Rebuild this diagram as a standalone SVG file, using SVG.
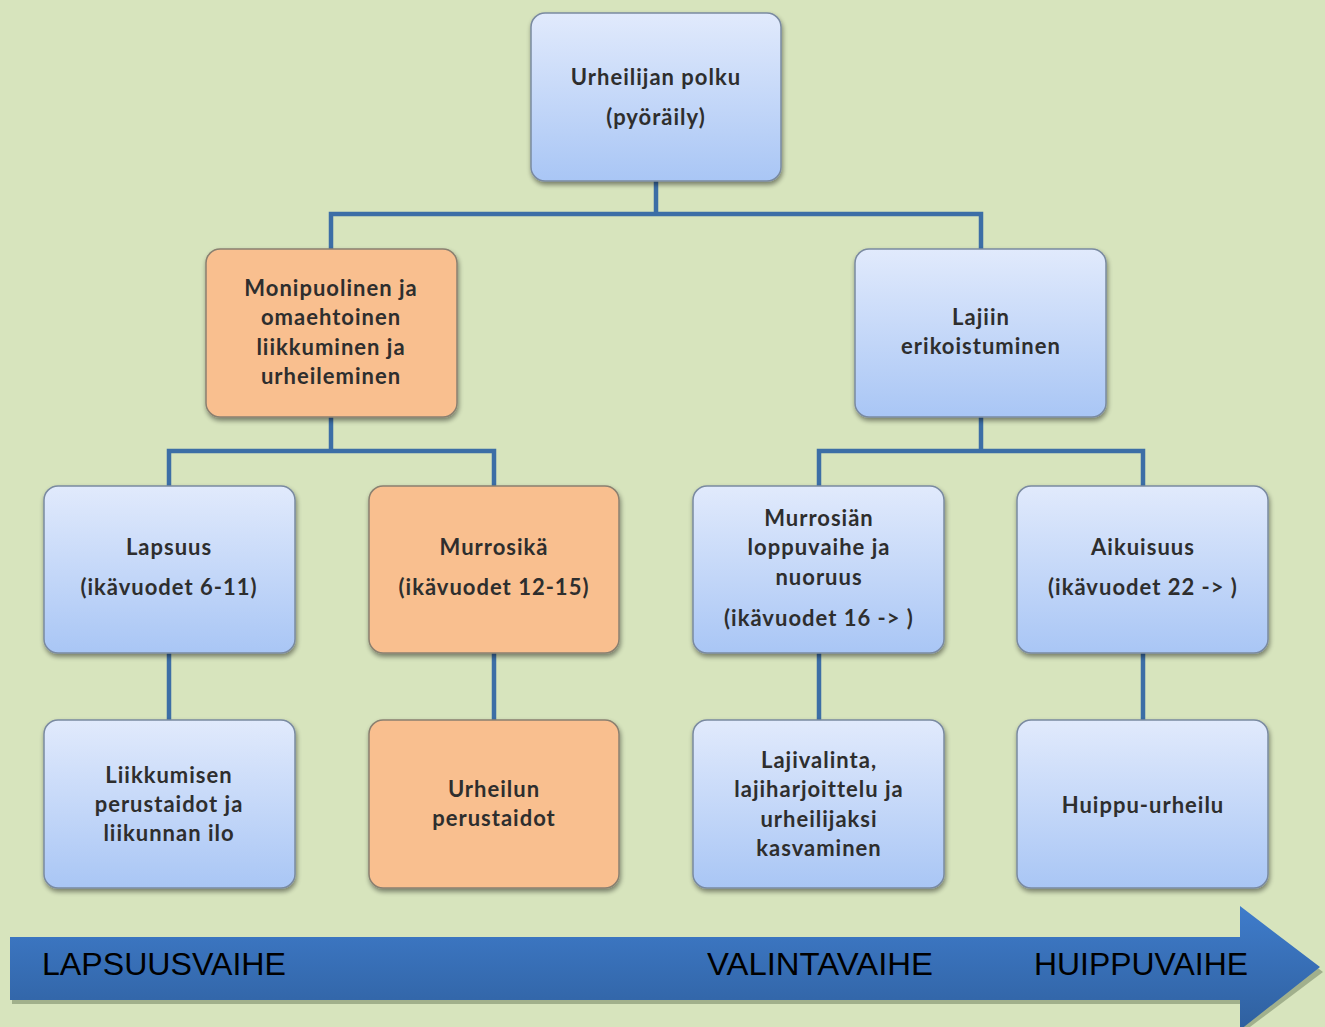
<svg xmlns="http://www.w3.org/2000/svg" width="1325" height="1027" viewBox="0 0 1325 1027">
<defs>
<linearGradient id="gb" x1="0" y1="0" x2="0" y2="1">
<stop offset="0" stop-color="#e1eafc"/>
<stop offset="1" stop-color="#a9c6f5"/>
</linearGradient>
<linearGradient id="ga" x1="0" y1="0" x2="0" y2="1">
<stop offset="0" stop-color="#3f7ccb"/>
<stop offset="1" stop-color="#2f609f"/>
</linearGradient>
<filter id="sh" x="-10%" y="-10%" width="130%" height="130%">
<feGaussianBlur in="SourceAlpha" stdDeviation="2.5"/>
<feOffset dx="1" dy="3" result="b"/>
<feComponentTransfer><feFuncA type="linear" slope="0.45"/></feComponentTransfer>
<feMerge><feMergeNode/><feMergeNode in="SourceGraphic"/></feMerge>
</filter>
</defs>
<style>
.blue{fill:url(#gb);stroke:#7a8aa0;stroke-width:1.5;filter:url(#sh)}
.orange{fill:#f9bf8f;stroke:#8a8070;stroke-width:1.5;filter:url(#sh)}
.t{font-family:Lato,"Open Sans","Liberation Sans",sans-serif;font-size:22px;font-weight:bold;fill:#2e2e2e;text-anchor:middle;letter-spacing:1px}
.c{fill:none;stroke:#3c6ea6;stroke-width:4.5}
.a{font-family:"Liberation Sans",Arial,sans-serif;font-size:32px;fill:#000}
</style>
<rect width="1325" height="1027" fill="#d7e4bd"/>
<g id="connectors">
<path class="c" d="M656 181V214M331 249V214H981V249"/>
<path class="c" d="M331 417V451M169 486V451H494V486"/>
<path class="c" d="M981 417V451M819 486V451H1143V486"/>
<path class="c" d="M169 653V720M494 653V720M819 653V720M1143 653V720"/>
</g>
<g id="n_top"><rect class="blue" x="531" y="13" width="250" height="168" rx="14"/>
<text class="t" x="656" y="85">Urheilijan polku</text><text class="t" x="656" y="125">(pyöräily)</text></g>
<g id="n_moni"><rect class="orange" x="206" y="249" width="251" height="168" rx="14"/>
<text class="t" x="331" y="296">Monipuolinen ja</text><text class="t" x="331" y="325">omaehtoinen</text><text class="t" x="331" y="355">liikkuminen ja</text><text class="t" x="331" y="384">urheileminen</text></g>
<g id="n_lajiin"><rect class="blue" x="855" y="249" width="251" height="168" rx="14"/>
<text class="t" x="981" y="325">Lajiin</text><text class="t" x="981" y="354">erikoistuminen</text></g>
<g id="n_lapsuus"><rect class="blue" x="44" y="486" width="251" height="167" rx="14"/>
<text class="t" x="169" y="555">Lapsuus</text><text class="t" x="169" y="595">(ikävuodet 6-11)</text></g>
<g id="n_murrosika"><rect class="orange" x="369" y="486" width="250" height="167" rx="14"/>
<text class="t" x="494" y="555">Murrosikä</text><text class="t" x="494" y="595">(ikävuodet 12-15)</text></g>
<g id="n_murrosian"><rect class="blue" x="693" y="486" width="251" height="167" rx="14"/>
<text class="t" x="819" y="526">Murrosiän</text><text class="t" x="819" y="555">loppuvaihe ja</text><text class="t" x="819" y="585">nuoruus</text><text class="t" x="819" y="626">(ikävuodet 16 -&gt; )</text></g>
<g id="n_aikuisuus"><rect class="blue" x="1017" y="486" width="251" height="167" rx="14"/>
<text class="t" x="1143" y="555">Aikuisuus</text><text class="t" x="1143" y="595">(ikävuodet 22 -&gt; )</text></g>
<g id="n_liikkumisen"><rect class="blue" x="44" y="720" width="251" height="168" rx="14"/>
<text class="t" x="169" y="783">Liikkumisen</text><text class="t" x="169" y="812">perustaidot ja</text><text class="t" x="169" y="841">liikunnan ilo</text></g>
<g id="n_urheilun"><rect class="orange" x="369" y="720" width="250" height="168" rx="14"/>
<text class="t" x="494" y="797">Urheilun</text><text class="t" x="494" y="826">perustaidot</text></g>
<g id="n_lajivalinta"><rect class="blue" x="693" y="720" width="251" height="168" rx="14"/>
<text class="t" x="819" y="768">Lajivalinta,</text><text class="t" x="819" y="797">lajiharjoittelu ja</text><text class="t" x="819" y="827">urheilijaksi</text><text class="t" x="819" y="856">kasvaminen</text></g>
<g id="n_huippu"><rect class="blue" x="1017" y="720" width="251" height="168" rx="14"/>
<text class="t" x="1143" y="813">Huippu-urheilu</text></g>
<g id="arrow">
<path d="M12 941H1242V910L1323 972L1242 1033V1004H12Z" fill="#8a9a78" opacity="0.7"/>
<path d="M10 937H1240V906L1320 967L1240 1030V1000H10Z" fill="url(#ga)"/>
<text class="a" x="42" y="975" textLength="244" lengthAdjust="spacingAndGlyphs">LAPSUUSVAIHE</text>
<text class="a" x="707" y="975" textLength="226" lengthAdjust="spacingAndGlyphs">VALINTAVAIHE</text>
<text class="a" x="1034" y="975" textLength="214" lengthAdjust="spacingAndGlyphs">HUIPPUVAIHE</text>
</g>
</svg>
